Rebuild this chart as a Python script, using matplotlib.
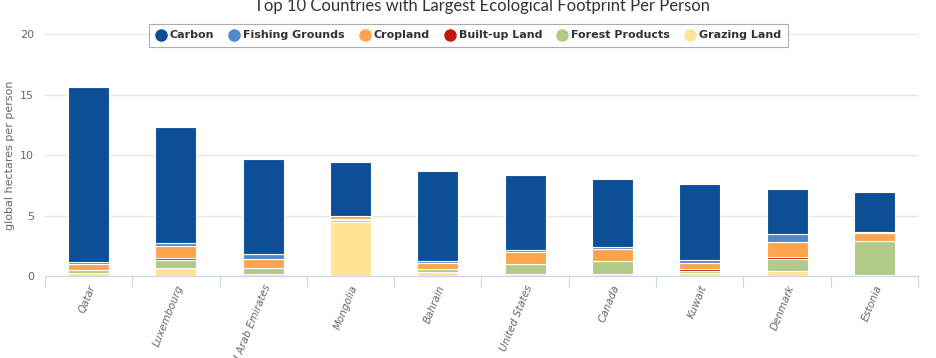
import matplotlib
matplotlib.use('Agg')
import matplotlib.pyplot as plt
from matplotlib.lines import Line2D
import numpy as np

countries = ["Qatar", "Luxembourg", "United Arab Emirates", "Mongolia", "Bahrain",
             "United States", "Canada", "Kuwait", "Denmark", "Estonia"]

# stacked from bottom: grazing, forest, built-up, cropland, fishing, carbon
grazing = [0.30, 0.70, 0.20, 4.50, 0.38, 0.20, 0.20, 0.25, 0.45, 0.08]
forest = [0.20, 0.63, 0.45, 0.15, 0.20, 0.80, 1.05, 0.20, 0.95, 2.80]
built_up = [0.05, 0.17, 0.05, 0.05, 0.05, 0.05, 0.05, 0.15, 0.22, 0.05]
cropland = [0.45, 1.00, 0.75, 0.27, 0.50, 0.95, 0.95, 0.50, 1.20, 0.65]
fishing = [0.20, 0.27, 0.40, 0.05, 0.15, 0.15, 0.20, 0.25, 0.70, 0.05]
carbon = [14.40, 9.55, 7.85, 4.40, 7.40, 6.20, 5.60, 6.30, 3.65, 3.35]

series = [
    ("Carbon", carbon, "#0d4f97"),
    ("Fishing Grounds", fishing, "#5088cb"),
    ("Cropland", cropland, "#ffa44d"),
    ("Built-up Land", built_up, "#c4160b"),
    ("Forest Products", forest, "#b2ca88"),
    ("Grazing Land", grazing, "#ffe495"),
]

fig = plt.figure(figsize=(9.37, 3.58), dpi=100)
ax = fig.add_axes([0.048, 0.228, 0.9317, 0.677])

x = np.arange(len(countries))
bottom = np.zeros(len(countries))
# draw bottom-up (legend order is reversed stack order)
for name, vals, color in reversed(series):
    ax.bar(x, vals, bottom=bottom, width=0.47, color=color,
           edgecolor="white", linewidth=0.8, zorder=3)
    bottom += np.array(vals)

ax.set_xlim(-0.5, len(countries) - 0.5)
ax.set_ylim(0, 20)
ax.set_yticks([0, 5, 10, 15, 20])
ax.grid(axis="y", color="#e6e6e6", linewidth=1, zorder=0)
for s in ["top", "right", "left"]:
    ax.spines[s].set_visible(False)
ax.spines["bottom"].set_color("#ccd6eb")
ax.tick_params(axis="y", length=0, labelsize=8, labelcolor="#666666", pad=8)

ax.set_xticks(np.arange(-0.5, len(countries)), minor=False)
ax.set_xticklabels([])
ax.tick_params(axis="x", which="major", length=8, color="#ccd6eb")
ax.set_xticks(x, minor=True)
ax.set_xticklabels(countries, minor=True, rotation=68, ha="right",
                   rotation_mode="anchor", fontsize=7.5, style="italic",
                   color="#666666")
ax.tick_params(axis="x", which="minor", length=0, pad=5)

ax.set_ylabel("global hectares per person", fontsize=8, color="#666666")
ax.yaxis.set_label_coords(-0.034, 0.5)

fig.text(0.514, 0.982, "Top 10 Countries with Largest Ecological Footprint Per Person",
         ha="center", va="center", fontsize=12, color="#333333",
         family="Lato")

handles = [Line2D([0], [0], marker="o", linestyle="none", markersize=8,
                  markerfacecolor=c, markeredgecolor=c) for _, _, c in series]
leg = fig.legend(handles, [n for n, _, _ in series], loc="center",
                 bbox_to_anchor=(0.4995, 0.901), ncol=6, fontsize=8,
                 frameon=True, fancybox=False, edgecolor="#999999",
                 handletextpad=0.3, columnspacing=1.3, borderpad=0.6,
                 handlelength=1.0)
leg.get_frame().set_linewidth(0.8)
for t in leg.get_texts():
    t.set_fontweight("bold")
    t.set_color("#333333")

fig.savefig("out.png", dpi=100)
